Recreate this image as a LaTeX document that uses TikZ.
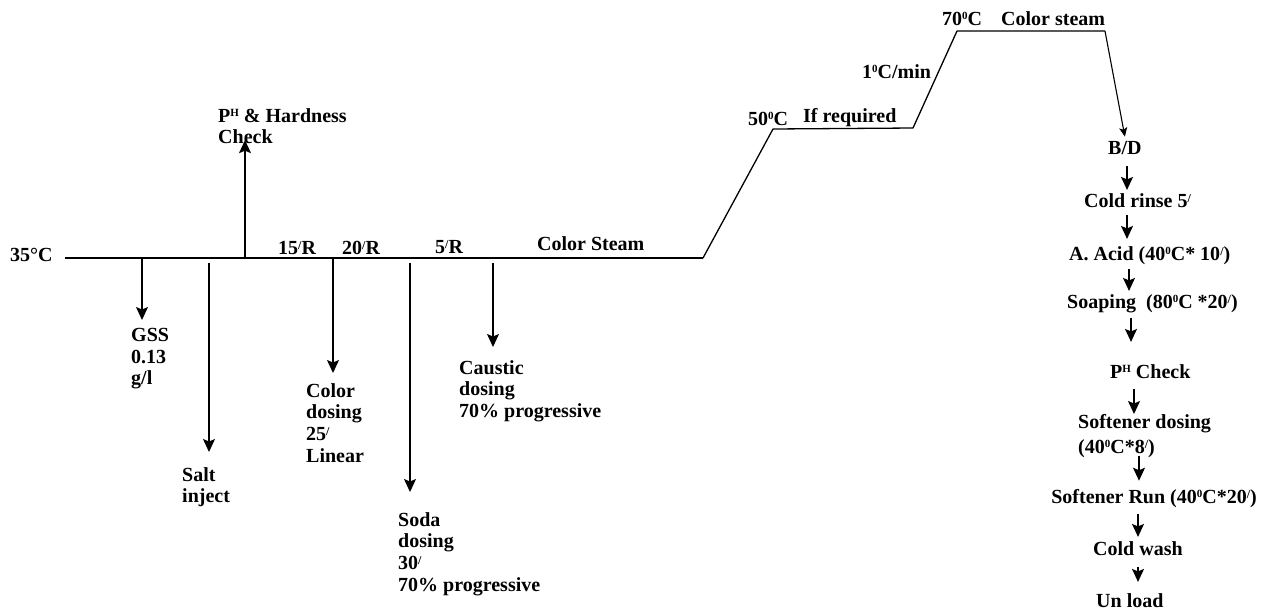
\documentclass[tikz,border=0pt]{standalone}
\usepackage{fontspec}
\setmainfont{Liberation Serif}
\usetikzlibrary{arrows.meta}
% small raised marks: degree zero / superscript letters, and the minute stroke
\newcommand\upmark[1]{\raisebox{5.8pt}{\fontsize{11}{11}\selectfont #1}}
\newcommand\mnt{\raisebox{4.5pt}{\fontsize{12}{12}\selectfont /}}
\begin{document}
\begin{tikzpicture}[x=1pt,y=-1pt,
  lbl/.style={inner sep=0pt, font=\fontsize{20}{21.7}\selectfont\bfseries},
  para/.style={lbl, align=left, anchor=north west},
  oneline/.style={lbl, anchor=base west},
  mainline/.style={line width=2.2pt},
  ramp/.style={line width=1.3pt, line join=round},
  arr/.style={line width=1.3pt, -{Stealth[length=13pt,width=12pt,inset=2.5pt]}},
  arrs/.style={line width=1.1pt, -{Stealth[length=9pt,width=8pt,inset=2pt]}}]
\useasboundingbox (0,0) rectangle (1274,611);

% temperature profile
\coordinate (m0) at (65,258);
\coordinate (m1) at (703,258);
\coordinate (m2) at (773,129);
\coordinate (m3) at (913,128);
\coordinate (m4) at (957,31);
\coordinate (m5) at (1105,31);
\draw[mainline] (m0) -- (m1);
\draw[ramp] (m1) -- (m2) -- (m3) -- (m4) -- (m5);

% branch points on the 35 C hold
\coordinate (pGSS) at (142,258);
\coordinate (pSalt) at (209,263);
\coordinate (pChk) at (245,258);
\coordinate (pCol) at (333,258);
\coordinate (pSoda) at (410,263);
\coordinate (pCaus) at (493,263);

% labels along the profile
\node[oneline] (t35) at (10,261) {35°C};
\node[oneline] (r15) at (278,254) {15\mnt R};
\node[oneline] (r20) at (342,254) {20\mnt R};
\node[oneline] (r5) at (435,253) {5\mnt R};
\node[oneline] (cs1) at (537,250) {Color Steam};
\node[oneline] (t50) at (748,125) {50\upmark{0}C};
\node[oneline] (ifr) at (803,122) {If required};
\node[oneline] (rate) at (862,78) {1\upmark{0}C/min};
\node[oneline] (t70) at (942,25) {70\upmark{0}C};
\node[oneline] (cs2) at (1001,25) {Color steam};

% dosing steps
\node[para] (chk) at (218,108) {P\upmark{H} \& Hardness\\Check};
\node[para] (gss) at (131,328) {GSS\\0.13\\g/l};
\node[para] (salt) at (182,467) {Salt\\inject};
\node[para] (col) at (306,383) {Color\\dosing\\25\mnt\\Linear};
\node[para] (soda) at (398,512) {Soda\\dosing\\30\mnt\\70\% progressive};
\node[para] (caus) at (459,360) {Caustic\\dosing\\70\% progressive};

\draw[arr, shorten >=-4pt] (pChk) -- (pChk |- chk.south);
\draw[arr, shorten >=8pt] (pGSS) -- (pGSS |- gss.north);
\draw[arr, shorten >=15pt] (pSalt) -- (pSalt |- salt.north);
\draw[arr, shorten >=10pt] (pCol) -- (pCol |- col.north);
\draw[arr, shorten >=20pt] (pSoda) -- (pSoda |- soda.north);
\draw[arr, shorten >=13pt] (pCaus) -- (pCaus |- caus.north);

% after-treatment sequence
\node[oneline] (bd) at (1108,154) {B/D};
\node[oneline] (rinse) at (1084,207) {Cold rinse 5\mnt};
\node[oneline] (acid) at (1069,260) {A. Acid (40\upmark{0}C* 10\mnt)};
\node[oneline] (soap) at (1067,308) {Soaping\ \ (80\upmark{0}C *20\mnt)};
\node[oneline] (phc) at (1110,378) {P\upmark{H} Check};
\node[para] (soft) at (1078,414) {Softener dosing\\[3.3pt](40\upmark{0}C*8\mnt)};
\node[oneline, anchor=base east] (run) at (1257,503) {Softener Run (40\upmark{0}C*20\mnt)};
\node[oneline] (wash) at (1093,555) {Cold wash};
\node[oneline] (unl) at (1096,607) {Un load};

\draw[arrs] (m5) -- ([yshift=4pt]bd.north);
\draw[arr, shorten <=12pt, shorten >=3pt] (1127,0 |- bd.south) -- (1127,0 |- rinse.north);
\draw[arr, shorten <=8pt, shorten >=7pt] (1127,0 |- rinse.south) -- (1127,0 |- acid.north);
\draw[arr, shorten <=4.5pt, shorten >=3pt] (1129,0 |- acid.south) -- (1129,0 |- soap.north);
\draw[arr, shorten <=5pt, shorten >=22pt] (1131,0 |- soap.south) -- (1131,0 |- phc.north);
\draw[arr, shorten <=11pt, shorten >=0pt] (1134,0 |- phc.south) -- (1134,0 |- soft.north);
\draw[arr, shorten <=-2pt, shorten >=8pt] (1139,0 |- soft.south) -- (1139,0 |- run.north);
\draw[arr, shorten <=6.5pt, shorten >=4pt] (1138,0 |- run.south) -- (1138,0 |- wash.north);
\draw[arr, shorten <=12pt, shorten >=11pt] (1138,0 |- wash.south) -- (1138,0 |- unl.north);
\end{tikzpicture}
\end{document}
